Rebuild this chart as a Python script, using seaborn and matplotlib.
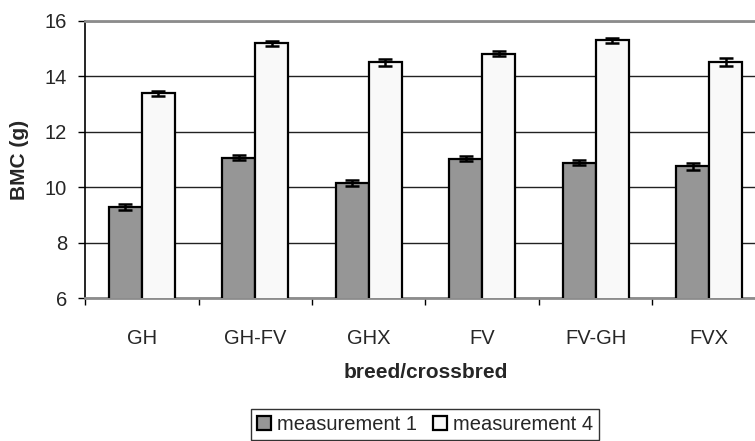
import matplotlib
matplotlib.use("Agg")
import matplotlib.pyplot as plt
import seaborn as sns
import pandas as pd
import numpy as np

categories = ["GH", "GH-FV", "GHX", "FV", "FV-GH", "FVX"]
measurement_1 = [9.28, 11.07, 10.15, 11.03, 10.88, 10.76]
measurement_4 = [13.39, 15.19, 14.51, 14.82, 15.31, 14.53]
err_1 = [0.10, 0.08, 0.12, 0.09, 0.09, 0.13]
err_4 = [0.10, 0.08, 0.12, 0.09, 0.09, 0.15]
series_names = ["measurement 1", "measurement 4"]
y_ticks = [6, 8, 10, 12, 14, 16]

df = pd.DataFrame({
    "breed": categories * 2,
    "BMC": measurement_1 + measurement_4,
    "measurement": [series_names[0]] * len(categories) + [series_names[1]] * len(categories),
})

sns.set_style("white")
plt.rcParams["font.family"] = ["Liberation Sans", "DejaVu Sans"]

W, H = 755, 441
fig = plt.figure(figsize=(W / 100, H / 100), dpi=100)
left, right, top, bottom = 85, 766, 21, 298
ax = fig.add_axes([left / W, 1 - bottom / H, (right - left) / W, (bottom - top) / H])

sns.barplot(data=df, x="breed", y="BMC", hue="measurement", order=categories,
            hue_order=series_names, palette=["#969696", "#f9f9f9"],
            width=0.58, gap=0, saturation=1, errorbar=None,
            edgecolor="black", linewidth=1.6, ax=ax, zorder=3)

# error bars at bar centres
bars = [p for p in ax.patches if p.get_height() > 0][:2 * len(categories)]
xs = [b.get_x() + b.get_width() / 2 for b in bars]
ys = [b.get_height() for b in bars]
errs = err_1 + err_4
ax.errorbar(xs, ys, yerr=errs, fmt="none", ecolor="black", elinewidth=1.8,
            capsize=4.8, capthick=1.8, zorder=4)

ax.set_ylim(6, 16)
ax.set_yticks(y_ticks)
ax.set_xlim(-0.5, len(categories) - 0.5)
ax.yaxis.grid(True, color="#222222", linewidth=1.0, zorder=0)
ax.set_axisbelow(True)

ax.spines["right"].set_visible(False)
ax.spines["top"].set_color("#8c8c8c")
ax.spines["top"].set_linewidth(2.0)
ax.spines["bottom"].set_color("#8c8c8c")
ax.spines["bottom"].set_linewidth(2.0)
ax.spines["left"].set_color("black")
ax.spines["left"].set_linewidth(1.2)

ax.tick_params(axis="y", which="major", length=5, width=1, color="black",
               labelsize=14.5, pad=8, left=True)
ax.set_xticks(range(len(categories)))
ax.set_xticklabels(categories)
ax.set_xticks(np.arange(-0.5, len(categories), 1.0), minor=True)
ax.tick_params(axis="x", which="major", length=0, labelsize=14.5, pad=22)
ax.tick_params(axis="x", which="minor", length=5, width=1, color="black", bottom=True)

ax.set_xlabel("breed/crossbred", fontsize=15, fontweight="bold", labelpad=11)
ax.set_ylabel("BMC (g)", fontsize=15, fontweight="bold")
ax.yaxis.set_label_coords((29 - left) / (right - left), 0.5)

ax.legend(loc="upper center", bbox_to_anchor=(425 / W, 1 - 409 / H),
          bbox_transform=fig.transFigure, ncol=2, frameon=True, fancybox=False,
          edgecolor="black", fontsize=14.5, handlelength=0.7, handleheight=0.7,
          handletextpad=0.3, columnspacing=0.8, borderpad=0.3, borderaxespad=0,
          title=None)
leg = ax.get_legend()
leg.get_frame().set_linewidth(1.0)

fig.savefig("out.png", dpi=100)
